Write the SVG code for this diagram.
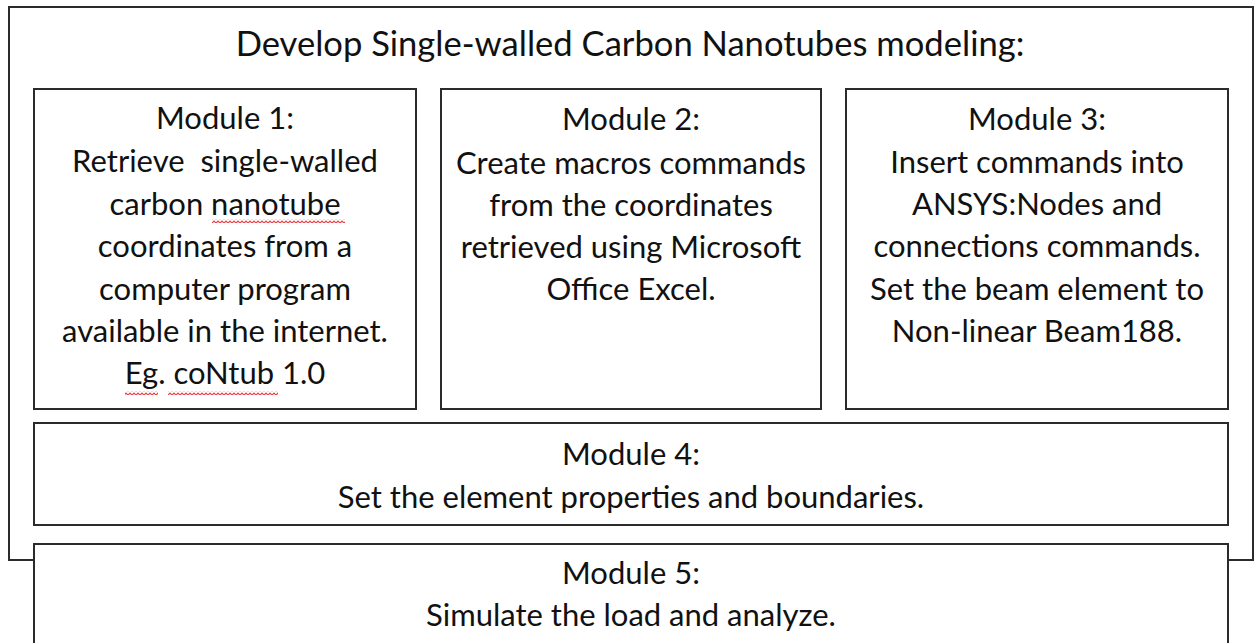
<svg xmlns="http://www.w3.org/2000/svg" width="1257" height="643" viewBox="0 0 1257 643">
  <style>
    .box { fill: #ffffff; stroke: #2b2b2b; stroke-width: 2; }
    .t { font-family: "Lato", "Open Sans", "Liberation Sans", sans-serif; font-size: 31px; fill: #111111; text-anchor: middle; }
    .title { font-size: 34.6px; }
    .pre { white-space: pre; }
    .spell { fill: url(#squiggle); }
  </style>
  <defs>
    <!-- red wavy underline used under flagged words -->
    <pattern id="squiggle" patternUnits="userSpaceOnUse" x="0" y="0" width="4" height="4">
      <path d="M0 3 L2 1 L4 3" fill="none" stroke="#e63f47" stroke-width="1.2"/>
    </pattern>
  </defs>

  <rect width="1257" height="643" fill="#ffffff"/>

  <!-- outer frame with heading -->
  <g id="frame">
    <rect class="box" x="9" y="7" width="1244" height="553"/>
    <text class="t title" x="630" y="56">Develop Single-walled Carbon Nanotubes modeling:</text>
  </g>

  <g id="module1">
    <rect class="box" x="34" y="89" width="382" height="320"/>
    <text class="t" x="225" y="129">Module 1:</text>
    <text class="t pre" x="225" y="172">Retrieve  single-walled</text>
    <text class="t" x="225" y="215">carbon nanotube</text>
    <text class="t" x="225" y="257">coordinates from a</text>
    <text class="t" x="225" y="300">computer program</text>
    <text class="t" x="225" y="342">available in the internet.</text>
    <text class="t" x="225" y="384">Eg. coNtub 1.0</text>
    <rect class="spell" x="212" y="219" width="133" height="4"/>
    <rect class="spell" x="125" y="391" width="33" height="4"/>
    <rect class="spell" x="168" y="391" width="110" height="4"/>
  </g>

  <g id="module2">
    <rect class="box" x="441" y="89" width="380" height="320"/>
    <text class="t" x="631" y="130">Module 2:</text>
    <text class="t" x="631" y="174">Create macros commands</text>
    <text class="t" x="631" y="216">from the coordinates</text>
    <text class="t" x="631" y="258">retrieved using Microsoft</text>
    <text class="t" x="631" y="300">Office Excel.</text>
  </g>

  <g id="module3">
    <rect class="box" x="846" y="89" width="382" height="320"/>
    <text class="t" x="1037" y="130">Module 3:</text>
    <text class="t" x="1037" y="173">Insert commands into</text>
    <text class="t" x="1037" y="215">ANSYS:Nodes and</text>
    <text class="t" x="1037" y="257">connections commands.</text>
    <text class="t" x="1037" y="300">Set the beam element to</text>
    <text class="t" x="1037" y="342">Non-linear Beam188.</text>
  </g>

  <g id="module4">
    <rect class="box" x="34" y="423" width="1194" height="102"/>
    <text class="t" x="631" y="465">Module 4:</text>
    <text class="t" x="631" y="508">Set the element properties and boundaries.</text>
  </g>

  <g id="module5">
    <rect class="box" x="34" y="544" width="1194" height="120"/>
    <text class="t" x="631" y="584">Module 5:</text>
    <text class="t" x="631" y="626">Simulate the load and analyze.</text>
  </g>

  <g id="connectors"/>
</svg>
